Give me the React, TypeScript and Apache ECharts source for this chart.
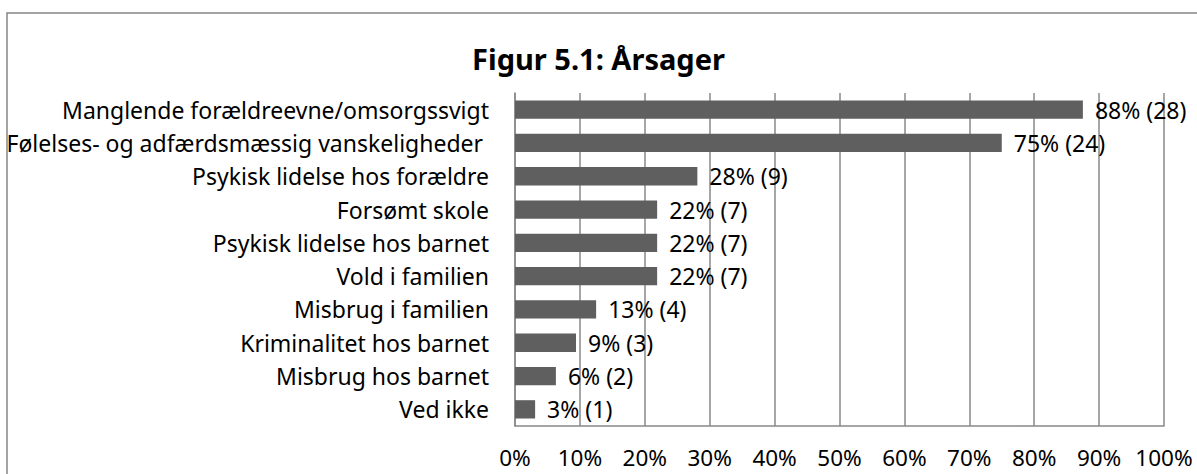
import React, { useEffect, useRef } from "react";
import * as echarts from "echarts";

const categories = [
  "Manglende forældreevne/omsorgssvigt",
  "Følelses- og adfærdsmæssig vanskeligheder ",
  "Psykisk lidelse hos forældre",
  "Forsømt skole",
  "Psykisk lidelse hos barnet",
  "Vold i familien",
  "Misbrug i familien",
  "Kriminalitet hos barnet",
  "Misbrug hos barnet",
  "Ved ikke",
];
const percents = [87.5, 75, 28.1, 21.9, 21.9, 21.9, 12.5, 9.4, 6.3, 3.1];
const counts = [28, 24, 9, 7, 7, 7, 4, 3, 2, 1];
const labelPercents = ["88%", "75%", "28%", "22%", "22%", "22%", "13%", "9%", "6%", "3%"];
const title = "Figur 5.1: Årsager";

const FONT = "Noto Sans";
const FS = 23;

export default function App() {
  const ref = useRef<HTMLDivElement>(null);
  useEffect(() => {
    const chart = echarts.init(ref.current!, null, { renderer: "svg" });
    chart.setOption({
      animation: false,
      backgroundColor: "#ffffff",
      textStyle: { fontFamily: FONT },
      title: {
        text: title,
        left: "center",
        top: 39,
        textStyle: { fontFamily: FONT, fontSize: 29, fontWeight: "bold", color: "#000" },
      },
      graphic: [
        {
          type: "rect",
          shape: { x: 7, y: 13, width: 1300, height: 600 },
          style: { fill: "none", stroke: "#878787", lineWidth: 1.5 },
          silent: true,
          z: -1,
        },
      ],
      grid: { left: 515, right: 33, top: 93, bottom: 48, containLabel: false },
      xAxis: {
        type: "value",
        min: 0,
        max: 100,
        interval: 10,
        axisLabel: {
          formatter: (v: number) => v + "%",
          fontFamily: FONT,
          fontSize: 22.5,
          lineHeight: 20,
          color: "#000",
          margin: 21,
        },
        axisLine: { show: true, lineStyle: { color: "#888", width: 1.5 } },
        axisTick: { show: false },
        splitLine: { show: true, lineStyle: { color: "#888", width: 1.5 } },
      },
      yAxis: {
        type: "category",
        data: categories,
        inverse: true,
        axisLabel: { fontFamily: FONT, fontSize: FS, color: "#000", margin: 26 },
        axisLine: { show: true, lineStyle: { color: "#888", width: 1.5 } },
        axisTick: { show: false },
      },
      series: [
        {
          type: "bar",
          data: percents,
          barWidth: "55%",
          itemStyle: { color: "#5f5f5f" },
          label: {
            show: true,
            position: "right",
            distance: 12,
            fontFamily: FONT,
            fontSize: FS,
            color: "#000",
            formatter: (p: any) => labelPercents[p.dataIndex] + " (" + counts[p.dataIndex] + ")",
          },
        },
      ],
    });
    return () => chart.dispose();
  }, []);
  return (
    <div
      ref={ref}
      style={{ position: "fixed", left: 0, top: 0, width: 1197, height: 474 }}
    />
  );
}
